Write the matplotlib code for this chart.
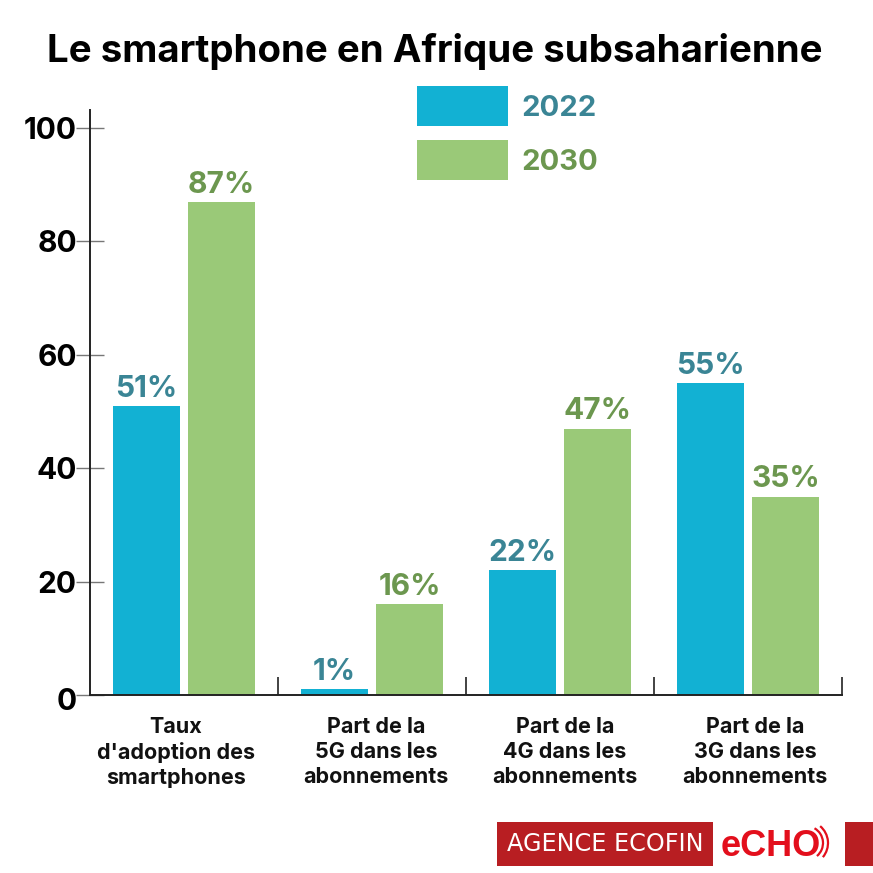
import numpy as np
import matplotlib
matplotlib.use("Agg")
import matplotlib.pyplot as plt
from matplotlib.patches import Rectangle, Arc
from matplotlib.transforms import ScaledTranslation

categories = ["Taux\nd'adoption des\nsmartphones", "Part de la\n5G dans les\nabonnements",
              "Part de la\n4G dans les\nabonnements", "Part de la\n3G dans les\nabonnements"]
values_2022 = [51, 1, 22, 55]
values_2030 = [87, 16, 47, 35]
yticks = [0, 20, 40, 60, 80, 100]
title = "Le smartphone en Afrique subsaharienne"

BLUE, GREEN = "#12b1d3", "#9ac978"
BLUE_T, GREEN_T = "#3a8595", "#6c974f"
RED = "#b81e22"
W = H = 873
plt.rcParams["font.family"] = ["Inter", "DejaVu Sans"]

fig = plt.figure(figsize=(W/100, H/100), dpi=100, facecolor="white")
ax = fig.add_axes([90/W, 1-695/H, (842-90)/W, (695-110)/H])
x = np.arange(len(categories))
off, bw = 0.2, 0.36
ax.bar(x-off, values_2022, bw, color=BLUE)
ax.bar(x+off, values_2030, bw, color=GREEN)
ax.set_xlim(-0.5, 3.5)
ax.set_ylim(0, 585/5.67)
for s in ("top", "right"):
    ax.spines[s].set_visible(False)
for s in ("left", "bottom"):
    ax.spines[s].set_linewidth(1.4)
    ax.spines[s].set_color("#222222")
ax.set_yticks(yticks)
ax.tick_params(axis="y", direction="inout", length=20, width=1, color="#777777", pad=-0.5)
for t, v in zip(ax.get_yticklabels(), yticks):
    t.set_fontsize(21.5); t.set_fontweight("bold"); t.set_color("black")
    if v == 0:
        t.set_transform(t.get_transform() + ScaledTranslation(0, -3/72, fig.dpi_scale_trans))
ax.set_xticks(np.arange(0.5, 3.6, 1))
ax.set_xticklabels([])
ax.tick_params(axis="x", direction="in", length=13, width=1.2, color="#222222")
label_shift = [-8, 4, 5, 7]
for xi, c, sh in zip(x, categories, label_shift):
    ax.annotate(c, (xi, 0), xycoords=("data", "axes fraction"), xytext=(sh*0.72, -15.5),
                textcoords="offset points", ha="center", va="top", fontsize=15.5,
                fontweight="bold", color="#111111", linespacing=1.33)
for xi, v in zip(x-off, values_2022):
    ax.annotate(f"{v}%", (xi, v), xytext=(0, 2.3), textcoords="offset points", ha="center",
                va="bottom", fontsize=21.5, fontweight="bold", color=BLUE_T)
for xi, v in zip(x+off, values_2030):
    ax.annotate(f"{v}%", (xi, v), xytext=(0, 2.3), textcoords="offset points", ha="center",
                va="bottom", fontsize=21.5, fontweight="bold", color=GREEN_T)

def frect(x0, y0, x1, y1, color):
    fig.add_artist(Rectangle((x0/W, 1-y1/H), (x1-x0)/W, (y1-y0)/H, transform=fig.transFigure,
                             facecolor=color, edgecolor="none"))
def ftext(px, py, s, **kw):
    fig.text(px/W, 1-py/H, s, **kw)

ftext(435, 52, title, ha="center", va="center", fontsize=27.7, fontweight="bold", color="black")
frect(417, 86, 508, 126, BLUE)
frect(417, 140, 508, 180, GREEN)
ftext(521, 108, "2022", va="center", fontsize=21, fontweight="bold", color=BLUE_T)
ftext(521, 162, "2030", va="center", fontsize=21, fontweight="bold", color=GREEN_T)

frect(497, 822, 713, 866, RED)
frect(845, 822, 873, 866, RED)
ftext(605, 844, "AGENCE ECOFIN", ha="center", va="center", fontsize=17.2, color="white",
      family="DejaVu Sans")
ftext(771, 846, "eCHO", ha="center", va="center", fontsize=26, fontweight="bold",
      color="#e30f1c", family="Liberation Sans")
for d, a1, a2 in [(34, -50, 60), (44, -40, 50)]:
    fig.add_artist(Arc((806/W, 1-843/H), d/W, d/H, theta1=a1, theta2=a2, color="#e30f1c",
                       lw=1.6, transform=fig.transFigure))
fig.savefig("out.png", dpi=100)
